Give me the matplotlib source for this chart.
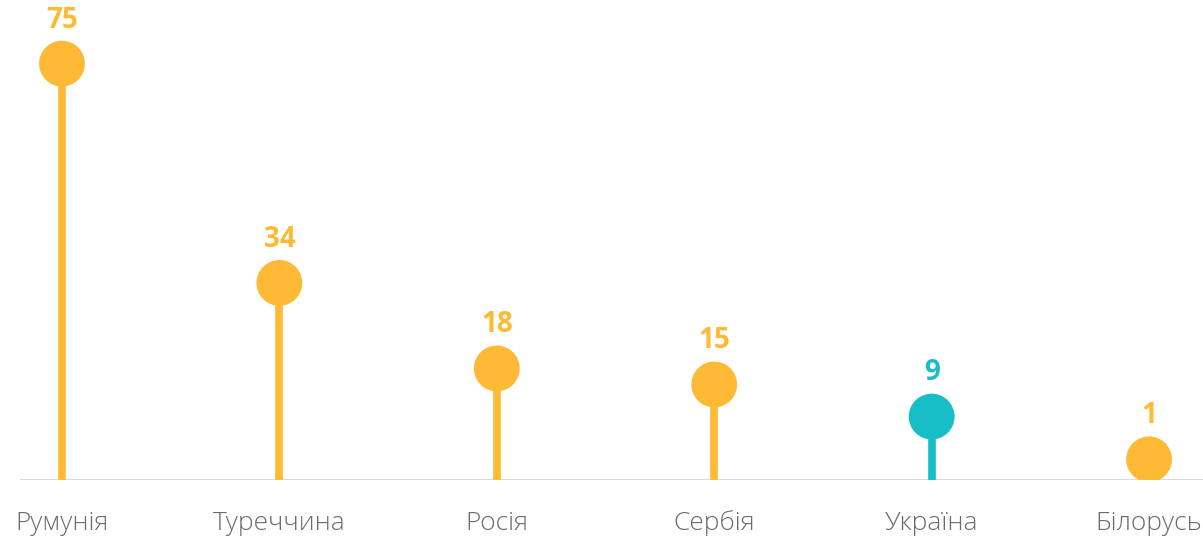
import matplotlib.pyplot as plt

countries = ['Румунія', 'Туреччина', 'Росія', 'Сербія', 'Україна', 'Білорусь']
values = [75, 34, 18, 15, 9, 1]
highlight = 'Україна'

orange = '#FFBA35'
teal = '#17BEC5'
base = -2.86

fig = plt.figure(figsize=(12.03, 5.37), dpi=100)
ax = fig.add_axes([20 / 1203, 57 / 537, 1183 / 1203, 480 / 537])

x = list(range(len(countries)))
colors = [teal if c == highlight else orange for c in countries]

ax.vlines(x, base, values, colors=colors, linewidth=5.5, zorder=2)
ax.scatter(x, values, s=33 ** 2, c=colors, linewidths=0, zorder=3)
ax.axhline(base, color='#dadada', linewidth=1.5, zorder=1)

for xi, v, col in zip(x, values, colors):
    ax.annotate(str(v), (xi, v), xytext=(0, 26), textcoords='offset points',
                ha='center', va='baseline', fontsize=20, fontweight='bold',
                family='Open Sans', color=col)

ax.set_xlim(-0.193, 5.248)
ax.set_ylim(base, 86.9)
ax.set_xticks(x, countries)
ax.tick_params(axis='x', length=0, pad=22, labelsize=19, labelcolor='#6b6b6b')
for lab in ax.get_xticklabels():
    lab.set_family('Open Sans')
    lab.set_fontweight('light')
ax.set_yticks([])
for s in ax.spines.values():
    s.set_visible(False)

fig.savefig('out.png', dpi=100)
